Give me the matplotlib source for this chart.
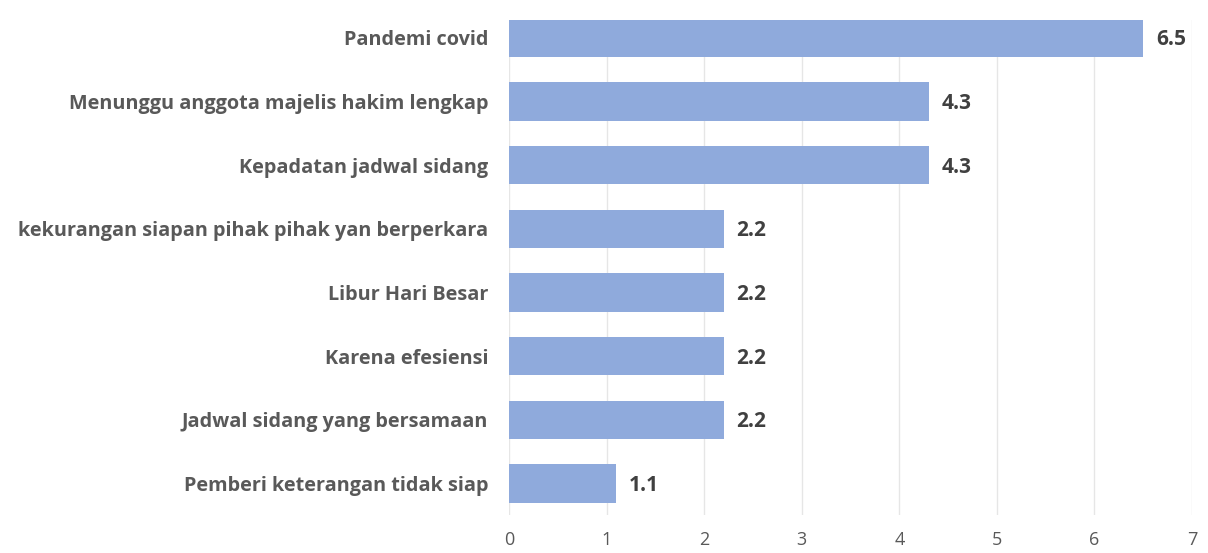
import matplotlib.pyplot as plt

categories = ["Pemberi keterangan tidak siap", "Jadwal sidang yang bersamaan",
              "Karena efesiensi", "Libur Hari Besar",
              "kekurangan siapan pihak pihak yan berperkara",
              "Kepadatan jadwal sidang", "Menunggu anggota majelis hakim lengkap",
              "Pandemi covid"]
values = [1.1, 2.2, 2.2, 2.2, 2.2, 4.3, 4.3, 6.5]
xticks = [0, 1, 2, 3, 4, 5, 6, 7]

plt.rcParams['font.family'] = ['Open Sans', 'DejaVu Sans']

fig = plt.figure(figsize=(12.08, 5.53), dpi=100)
ax = fig.add_axes([0.4214, 0.068, 0.5654, 0.8958])

y = range(len(categories))
ax.barh(y, values, height=0.6, color='#8FAADC', zorder=3)
for yi, v in zip(y, values):
    ax.text(v + 0.13, yi - 0.03, f"{v}", va='center', ha='left', fontsize=15,
            fontweight='bold', color='#404040')

ax.set_yticks(list(y))
ax.set_yticklabels(categories, fontsize=14.3, fontweight='bold', color='#595959')
ax.set_xticks(xticks)
ax.set_xticklabels([str(t) for t in xticks], fontsize=13, color='#595959')
ax.set_xlim(0, 7)
ax.set_ylim(-0.5, 7.28)
ax.grid(axis='x', color='#E6E6E6', linewidth=1, zorder=0)
for s in ax.spines.values():
    s.set_visible(False)
ax.tick_params(axis='both', length=0)
ax.tick_params(axis='y', pad=15)
ax.tick_params(axis='x', pad=11)

fig.savefig('out.png', dpi=100)
